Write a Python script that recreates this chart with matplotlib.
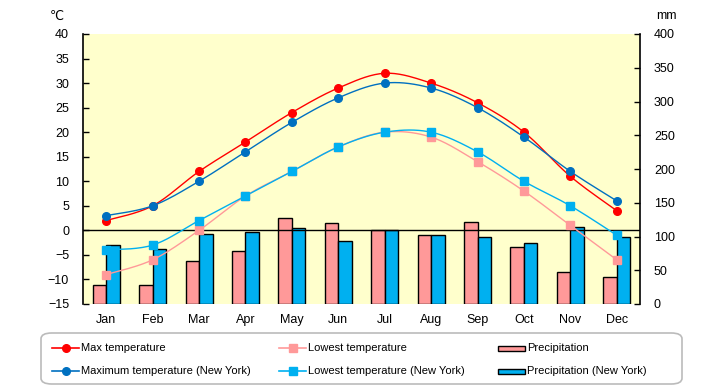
import numpy as np
import matplotlib
matplotlib.use("Agg")
import matplotlib.pyplot as plt
from matplotlib.lines import Line2D
from matplotlib.patches import FancyBboxPatch, Rectangle

plt.rcParams['font.family'] = ['Liberation Sans', 'DejaVu Sans']

months = ["Jan", "Feb", "Mar", "Apr", "May", "Jun", "Jul", "Aug", "Sep", "Oct", "Nov", "Dec"]
max_temp = [2, 5, 12, 18, 24, 29, 32, 30, 26, 20, 11, 4]
low_temp = [-9, -6, 0, 7, 12, 17, 20, 19, 14, 8, 1, -6]
max_temp_ny = [3, 5, 10, 16, 22, 27, 30, 29, 25, 19, 12, 6]
low_temp_ny = [-4, -3, 2, 7, 12, 17, 20, 20, 16, 10, 5, -1]
precip = [28, 28, 63, 78, 127, 120, 110, 102, 122, 84, 48, 40]
precip_ny = [87, 82, 103, 106, 112, 93, 110, 102, 99, 90, 114, 99]

legend_labels = ["Max temperature", "Maximum temperature (New York)",
                 "Lowest temperature", "Lowest temperature (New York)",
                 "Precipitation", "Precipitation (New York)"]

RED = "#FF0000"
PINK = "#FF9999"
DBLUE = "#0070C0"
LBLUE = "#00B0F0"
BG = "#FFFFCC"


def smooth(xs, ys, n=20):
    xs = np.asarray(xs, float)
    ys = np.asarray(ys, float)
    px = np.concatenate([[2 * xs[0] - xs[1]], xs, [2 * xs[-1] - xs[-2]]])
    py = np.concatenate([[ys[0]], ys, [ys[-1]]])
    outx, outy = [], []
    for i in range(1, len(px) - 2):
        p0x, p1x, p2x, p3x = px[i - 1], px[i], px[i + 1], px[i + 2]
        p0y, p1y, p2y, p3y = py[i - 1], py[i], py[i + 1], py[i + 2]
        if i == 1:
            p0x, p0y = p1x, p1y
        if i == len(px) - 3:
            p3x, p3y = p2x, p2y
        c1x = p1x + (p2x - p0x) / 6
        c1y = p1y + (p2y - p0y) / 6
        c2x = p2x - (p3x - p1x) / 6
        c2y = p2y - (p3y - p1y) / 6
        t = np.linspace(0, 1, n)
        bx = (1 - t) ** 3 * p1x + 3 * (1 - t) ** 2 * t * c1x + 3 * (1 - t) * t ** 2 * c2x + t ** 3 * p2x
        by = (1 - t) ** 3 * p1y + 3 * (1 - t) ** 2 * t * c1y + 3 * (1 - t) * t ** 2 * c2y + t ** 3 * p2y
        outx.extend(bx)
        outy.extend(by)
    return np.array(outx), np.array(outy)


fig = plt.figure(figsize=(7.2, 3.85), dpi=100)
L, R, T, B = 83 / 720, 640 / 720, 34 / 385, 304 / 385
ax = fig.add_axes([L, 1 - B, R - L, B - T])
ax.set_facecolor(BG)
x = np.arange(len(months))
bw = 0.29
ax.bar(x - bw / 2, precip, width=bw, color=PINK, edgecolor="black", linewidth=1, zorder=2)
ax.bar(x + bw / 2, precip_ny, width=bw, color=LBLUE, edgecolor="black", linewidth=1, zorder=2)
ax.set_ylim(0, 400)
ax.set_yticks(np.arange(0, 401, 50))
ax.set_xlim(-0.5, 11.5)
ax.set_xticks(x)
ax.set_xticklabels(months)

ax2 = ax.twinx()
ax2.set_ylim(-15, 40)
ax2.set_yticks(np.arange(-15, 41, 5))
ax2.patch.set_visible(False)
ax2.axhline(0, color="black", linewidth=1, zorder=1)

ax.yaxis.set_ticks_position("right")
ax.yaxis.set_label_position("right")
ax2.yaxis.set_ticks_position("left")
ax2.yaxis.set_label_position("left")

series = [
    (low_temp, PINK, "s"),
    (low_temp_ny, LBLUE, "s"),
    (max_temp, RED, "o"),
    (max_temp_ny, DBLUE, "o"),
]
for ys, c, m in series:
    sx, sy = smooth(x, ys)
    ax2.plot(sx, sy, color=c, linewidth=1, zorder=3)
    ax2.plot(x, ys, linestyle="none", marker=m, color=c, markersize=5.5, zorder=4)

for a in (ax, ax2):
    for s in ("top", "bottom", "left", "right"):
        a.spines[s].set_visible(False)
ax2.spines["left"].set_visible(True)
ax2.spines["left"].set_linewidth(1.2)
ax2.spines["right"].set_visible(True)
ax2.spines["right"].set_linewidth(1.2)

ax2.tick_params(axis="y", direction="in", length=4, width=1, labelsize=9, pad=10)
ax.tick_params(axis="y", direction="in", length=4, width=1, labelsize=9, pad=10)
ax.tick_params(axis="x", length=0, labelsize=9, pad=7)

fig.text(57 / 720, 1 - 16 / 385, "℃", fontsize=9, ha="center", va="center", family=["DejaVu Sans"])
fig.text(666 / 720, 1 - 16 / 385, "mm", fontsize=9, ha="center", va="center")

# legend
box = FancyBboxPatch((41 / 720, 1 - 384 / 385), (682 - 41) / 720, (384 - 333) / 385,
                     boxstyle="round,pad=0,rounding_size=0.015", transform=fig.transFigure,
                     facecolor="white", edgecolor="#BBBBBB", linewidth=1.2, zorder=1)
fig.add_artist(box)

cols = [52, 279, 498]
rows = [348, 371]
specs = [("line", RED, "o"), ("line", DBLUE, "o"),
         ("line", PINK, "s"), ("line", LBLUE, "s"),
         ("bar", PINK, None), ("bar", LBLUE, None)]
for k, (kind, c, m) in enumerate(specs):
    cx = cols[k // 2]
    cy = rows[k % 2]
    y = 1 - cy / 385
    if kind == "line":
        fig.add_artist(Line2D([cx / 720, (cx + 27) / 720], [y, y], color=c, linewidth=1.2,
                              transform=fig.transFigure, zorder=5))
        fig.add_artist(Line2D([(cx + 13.5) / 720], [y], color=c, marker=m, markersize=5.5,
                              linestyle="none", transform=fig.transFigure, zorder=6))
    else:
        fig.add_artist(Rectangle((cx / 720, y - 2.5 / 385), 27 / 720, 5 / 385, facecolor=c,
                                 edgecolor="black", linewidth=1, transform=fig.transFigure,
                                 zorder=5))
    fig.text((cx + 29) / 720, y, legend_labels[k], fontsize=8, ha="left", va="center", zorder=6)

fig.savefig("out.png", dpi=100)
